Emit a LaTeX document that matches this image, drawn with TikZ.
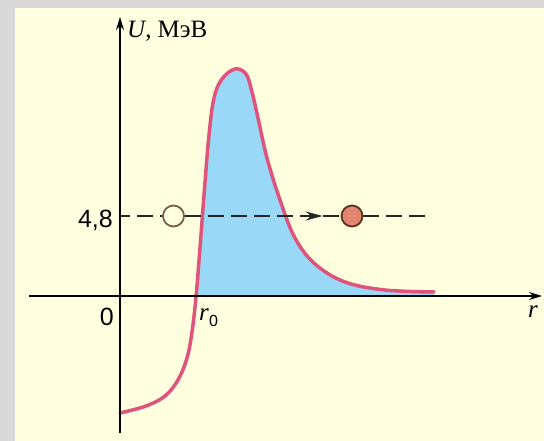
\documentclass[tikz,border=0pt]{standalone}
\usepackage{fontspec}
\setmainfont{Liberation Serif}
\setsansfont{Liberation Sans}
\usepackage{tikz}
\usetikzlibrary{arrows.meta,decorations.markings,positioning}
\definecolor{frame}{RGB}{217,217,217}
\definecolor{panel}{RGB}{255,255,224}
\definecolor{barrier}{RGB}{224,84,124}
\definecolor{sky}{RGB}{153,217,247}
\definecolor{alpha}{RGB}{226,132,110}
\definecolor{rim}{RGB}{88,52,32}

\begin{document}
\begin{tikzpicture}[x=1pt,y=-1pt,>={Stealth[length=13pt,width=8pt]},
		font=\fontsize{25}{29}\selectfont]
		\tikzstyle{axis}=[line width=1.8pt,->]
		\tikzstyle{level}=[line width=2pt,draw=black!85,dash pattern=on 16pt off 7pt]
		\tikzstyle{ball}=[circle,line width=1.8pt,minimum size=21pt,inner sep=0pt]
		\tikzstyle{lab}=[inner sep=0pt]
		\tikzstyle{num}=[inner sep=0pt,font=\sffamily\fontsize{25}{29}\selectfont]
		
		% panel
		\fill[frame] (0,0) rectangle (544,441);
		\fill[panel] (15,8) rectangle (544,441);
		
		\coordinate (o)     at (120,296);
		\coordinate (ytop)  at (120,17);
		\coordinate (ybot)  at (120,433);
		\coordinate (xleft) at (29,296);
		\coordinate (xtip)  at (542,296);
		\coordinate (lvl)   at (120,216);
		\coordinate (lvlend) at (425,216);
		
		% barrier area
		\begin{scope}
		\clip (196,0) rectangle (544,296);
		\fill[sky] plot[smooth,tension=0.6] coordinates {(120,413) (146,406) (165,396)
			(178,380) (187,358) (192,332) (196,297) (200,248) (204,195) (209,135) (214,98)
			(222,79) (235,69) (246,74) (252,92) (258,118) (267,158) (280,200) (295,238)
			(315,264) (345,282) (385,290) (434,292)} -- (434,300) -- (120,300) -- cycle;
		\end{scope}
		\draw[barrier,line width=3.5pt,line cap=round] plot[smooth,tension=0.6]
			coordinates {(120,413) (146,406) (165,396) (178,380) (187,358) (192,332)
			(196,297) (200,248) (204,195) (209,135) (214,98) (222,79) (235,69) (246,74)
			(252,92) (258,118) (267,158) (280,200) (295,238) (315,264) (345,282) (385,290)
			(434,292)};
		
		% axes
		\draw[axis] (ybot) -- (ytop);
		\draw[axis] (xleft) -- (xtip);
		
		% particle
		\node[ball,draw=rim!80,fill=panel] (empty) at (173.5,216) {};
		\node[ball,draw=rim,fill=alpha] (full) at (352,216) {};
		\draw[level,dash phase=6pt] (lvl) -- (empty);
		\draw[level,decoration={markings,mark=at position 0.885 with
			{\arrow{Stealth[length=17pt,width=9pt]}}},postaction={decorate}] (empty) -- (full);
		\draw[level] (full) -- (lvlend);
		
		% labels
		\node[lab,anchor=base west] (ulab) at (127,38) {\textit{U}, МэВ};
		\node[num,anchor=base east] (val) at (113,227) {4,8};
		\node[num,anchor=base east] (zero) at (114,325) {0};
		\node[lab,anchor=base west] (r0) at (199,320)
			{\textit{r}\raisebox{-6pt}{\sffamily\fontsize{16}{16}\selectfont 0}};
		\node[lab,anchor=base west] (rlab) at (528,317) {\textit{r}};
		\end{tikzpicture}
\end{document}
